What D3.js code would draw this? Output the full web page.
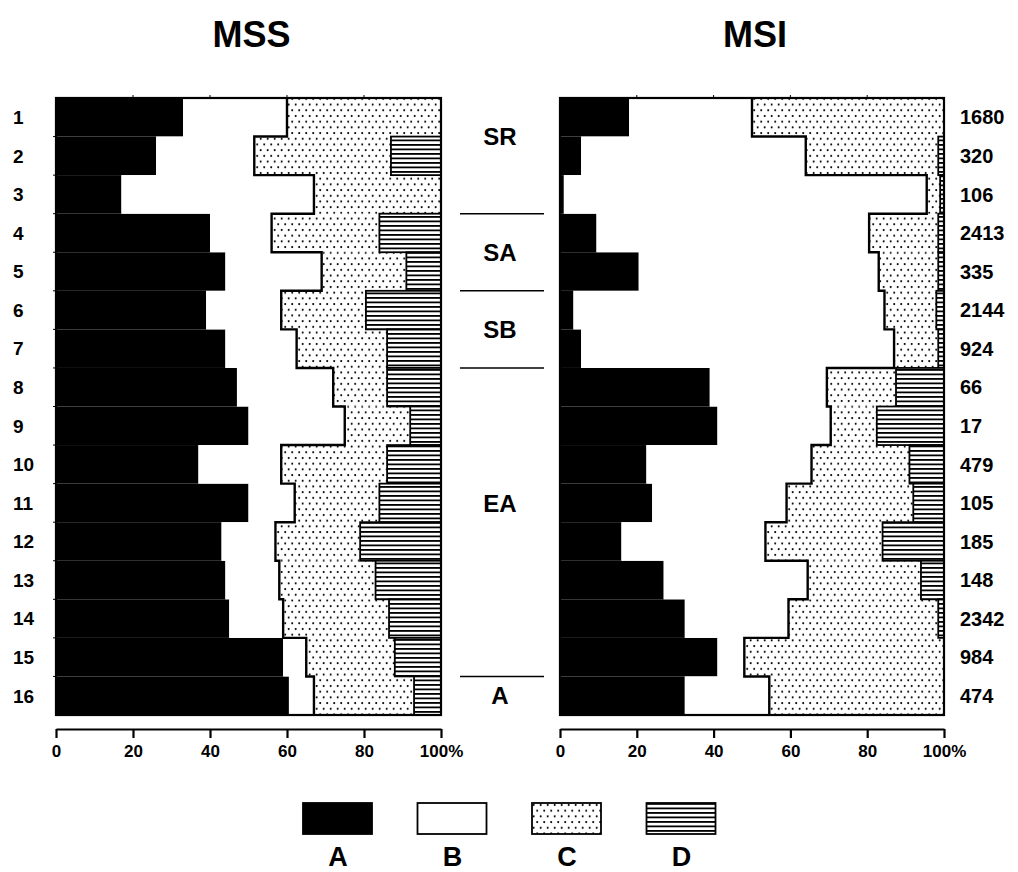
<!DOCTYPE html>
<html lang="en">
<head>
    <meta charset="UTF-8">
    <title>MSS / MSI</title>
    <script src="https://d3js.org/d3.v7.min.js"></script>
    <style>
        body { margin: 0; background: #fff; }
        text { font-family: "Liberation Sans", Arial, sans-serif; font-weight: bold; fill: #000; }
    </style>
</head>
<body>
    <script>
        // row labels and counts
        const rows = d3.range(1, 17);
        const counts = [1680, 320, 106, 2413, 335, 2144, 924, 66, 17, 479, 105, 185, 148, 2342, 984, 474];

        // MSS percentages (A, B, C, D) per row
        const mssA = [33, 26, 17, 40, 44, 39, 44, 47, 50, 37, 50, 43, 44, 45, 59, 60.5];
        const mssB = [27, 25.5, 50, 16, 25, 19.5, 18.5, 25, 25, 21.5, 12, 14, 14, 14, 6, 6.5];
        const mssC = [40, 35.5, 33, 28, 22, 22, 23.5, 14, 17, 27.5, 22, 22, 25, 27.5, 23, 26];
        const mssD = [0, 13, 0, 16, 9, 19.5, 14, 14, 8, 14, 16, 21, 17, 13.5, 12, 7];

        // MSI percentages
        const msiA = [18, 5.5, 1, 9.5, 20.5, 3.5, 5.5, 39, 41, 22.5, 24, 16, 27, 32.5, 41, 32.5];
        const msiB = [32, 58.5, 94.5, 71, 62.5, 81, 81.5, 30.5, 29.5, 43, 35, 37.5, 37.5, 27, 7, 22];
        const msiC = [50, 34.5, 3.5, 18, 15.5, 13.5, 11.5, 18, 12, 25.5, 33, 30.5, 29.5, 39, 52, 45.5];
        const msiD = [0, 1.5, 1, 1.5, 1.5, 2, 1.5, 12.5, 17.5, 9, 8, 16, 6, 1.5, 0, 0];

        // groups in the middle column
        const groupNames = ["SR", "SA", "SB", "EA", "A"];
        const groupEnds = [3, 5, 7, 15, 16];
        const groupLabelAt = [2, 5, 7, 11.5, 16.5];

        const keys = ["A", "B", "C", "D"];
        const ticks = [0, 20, 40, 60, 80, 100];

        const W = 1018, H = 872;
        const svg = d3.select("body").append("svg")
            .attr("width", W).attr("height", H);

        const defs = svg.append("defs");
        const dots = defs.append("pattern").attr("id", "dots")
            .attr("patternUnits", "userSpaceOnUse")
            .attr("width", 7).attr("height", 11.4);
        dots.append("rect").attr("width", 7).attr("height", 11.4).attr("fill", "#fff");
        dots.append("circle").attr("cx", 1.7).attr("cy", 2).attr("r", 1.05).attr("fill", "#000");
        dots.append("circle").attr("cx", 5.2).attr("cy", 7.7).attr("r", 1.05).attr("fill", "#000");

        const stripes = defs.append("pattern").attr("id", "stripes")
            .attr("patternUnits", "userSpaceOnUse")
            .attr("width", 8).attr("height", 4.5);
        stripes.append("rect").attr("width", 8).attr("height", 4.5).attr("fill", "#fff");
        stripes.append("rect").attr("y", 0).attr("width", 8).attr("height", 1.8).attr("fill", "#000");

        const fills = { A: "#000", B: "#fff", C: "url(#dots)", D: "url(#stripes)" };

        const y = d3.scaleBand().domain(rows).range([98, 715]).paddingInner(0).paddingOuter(0);
        const bw = y.bandwidth();
        const yAt = v => 98 + (v - 1) * bw;

        function panel(title, xRange, A, B, C, D) {
            const x = d3.scaleLinear().domain([0, 100]).range(xRange);
            const data = rows.map((r, i) => ({ row: r, A: A[i], B: B[i], C: C[i], D: D[i] }));
            const series = d3.stack().keys(keys)(data);
            const g = svg.append("g");

            series.forEach(s => {
                g.append("g").selectAll("rect")
                    .data(s)
                    .join("rect")
                    .attr("x", d => x(d[0]))
                    .attr("y", d => y(d.data.row))
                    .attr("width", d => Math.max(0, x(d[1]) - x(d[0])))
                    .attr("height", bw)
                    .attr("fill", fills[s.key])
                    .attr("stroke", s.key === "D" ? "#000" : "none")
                    .attr("stroke-width", s.key === "D" ? 1.8 : 0)
                    .attr("display", d => d[1] - d[0] > 0 ? null : "none");
            });

            // staircase edge between B and C
            const stepPts = [];
            data.forEach(d => {
                const v = d.A + d.B;
                stepPts.push([x(v), y(d.row)], [x(v), y(d.row) + bw]);
            });
            g.append("path")
                .attr("d", d3.line()(stepPts))
                .attr("fill", "none").attr("stroke", "#000").attr("stroke-width", 2.4);

            // frame
            g.append("rect")
                .attr("x", xRange[0]).attr("y", 98)
                .attr("width", xRange[1] - xRange[0]).attr("height", 715 - 98)
                .attr("fill", "none").attr("stroke", "#000").attr("stroke-width", 2.2);

            // small top ticks
            g.selectAll("line.top").data(ticks.slice(1, -1)).join("line")
                .attr("x1", d => x(d)).attr("x2", d => x(d))
                .attr("y1", 95).attr("y2", 98)
                .attr("stroke", "#000").attr("stroke-width", 1);

            // bottom axis
            const ax = g.append("g")
                .attr("transform", "translate(0,729)")
                .call(d3.axisBottom(x).tickValues(ticks).tickSize(9).tickSizeOuter(0).tickPadding(7)
                    .tickFormat(d => d === 100 ? "100%" : d));
            ax.select(".domain").attr("stroke-width", 2.2);
            ax.selectAll(".tick line").attr("stroke-width", 2.2);
            ax.selectAll(".tick text").style("font-size", "17px");

            svg.append("text")
                .attr("x", (xRange[0] + xRange[1]) / 2 + 3).attr("y", 47)
                .attr("text-anchor", "middle")
                .style("font-size", "36px")
                .text(title);
            return x;
        }

        panel("MSS", [56, 441], mssA, mssB, mssC, mssD);
        panel("MSI", [560, 944], msiA, msiB, msiC, msiD);

        // left row ticks and labels
        svg.append("g").selectAll("line")
            .data(rows.slice(1))
            .join("line")
            .attr("x1", 53).attr("x2", 56)
            .attr("y1", d => y(d)).attr("y2", d => y(d))
            .attr("stroke", "#000");

        svg.append("g").selectAll("text")
            .data(rows)
            .join("text")
            .attr("x", 13)
            .attr("y", d => y(d) + bw / 2)
            .attr("dy", "0.36em")
            .style("font-size", "19px")
            .text(d => d);

        // right counts
        svg.append("g").selectAll("text")
            .data(counts)
            .join("text")
            .attr("x", 960)
            .attr("y", (d, i) => y(rows[i]) + bw / 2)
            .attr("dy", "0.36em")
            .style("font-size", "20px")
            .text(d => d);

        // middle groups
        const mid = svg.append("g");
        mid.selectAll("line")
            .data(groupEnds.slice(0, -1))
            .join("line")
            .attr("x1", 460).attr("x2", 544)
            .attr("y1", d => yAt(d + 1)).attr("y2", d => yAt(d + 1))
            .attr("stroke", "#000").attr("stroke-width", 1.6);
        mid.selectAll("text")
            .data(groupNames)
            .join("text")
            .attr("x", 500)
            .attr("y", (d, i) => yAt(groupLabelAt[i]))
            .attr("dy", "0.36em")
            .attr("text-anchor", "middle")
            .style("font-size", "24px")
            .text(d => d);

        // legend
        const leg = svg.append("g").selectAll("g")
            .data(keys)
            .join("g")
            .attr("transform", (d, i) => `translate(${303 + i * 114.5},803)`);
        leg.append("rect")
            .attr("width", 69).attr("height", 31)
            .attr("fill", d => fills[d])
            .attr("stroke", "#000").attr("stroke-width", 1.8);
        leg.append("text")
            .attr("x", 35).attr("y", 63)
            .attr("text-anchor", "middle")
            .style("font-size", "27px")
            .text(d => d);
    </script>
</body>
</html>
